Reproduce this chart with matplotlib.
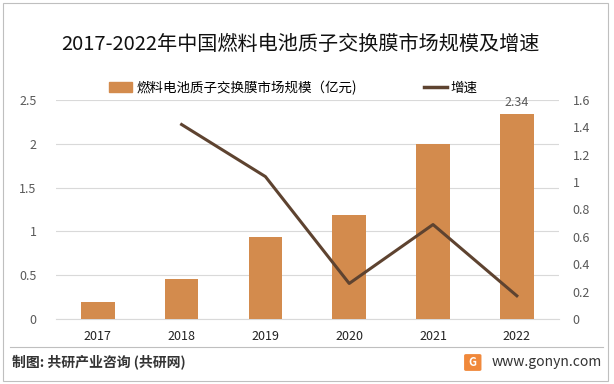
import matplotlib
matplotlib.use("Agg")
import matplotlib.pyplot as plt
from matplotlib.patches import Rectangle, FancyBboxPatch
from matplotlib.lines import Line2D

plt.rcParams['font.family'] = ['Noto Sans CJK SC', 'DejaVu Sans']

### Data ###
years = ['2017', '2018', '2019', '2020', '2021', '2022']
market_size = [0.19, 0.46, 0.94, 1.19, 2.00, 2.34]   # 亿元
growth = [None, 1.42, 1.04, 0.26, 0.69, 0.17]         # 增速
left_ticks = [0, 0.5, 1, 1.5, 2, 2.5]
right_ticks = [0, 0.2, 0.4, 0.6, 0.8, 1, 1.2, 1.4, 1.6]

title = '2017-2022年中国燃料电池质子交换膜市场规模及增速'
bar_label = '燃料电池质子交换膜市场规模（亿元)'
line_label = '增速'
source = '制图: 共研产业咨询 (共研网)'
site = 'www.gonyn.com'

bar_color = '#D38B4D'
line_color = '#5E4330'
tick_color = '#595959'

fig = plt.figure(figsize=(6.14, 3.84), dpi=100)
ax = fig.add_axes([0.091, 0.169, 0.819, 0.571])
x = list(range(len(years)))
ax.bar(x, market_size, width=0.4, color=bar_color, zorder=3, label=bar_label)
ax.set_xlim(-0.5, len(years) - 0.5)
ax.set_ylim(0, 2.5)
ax.set_yticks(left_ticks)
ax.set_yticklabels([f'{t:g}' for t in left_ticks])
ax.set_xticks(x)
ax.set_xticklabels(years)
ax.grid(axis='y', color='#D9D9D9', linewidth=0.8, zorder=0)
for s in ['top', 'left', 'right']:
    ax.spines[s].set_visible(False)
ax.spines['bottom'].set_color('#D9D9D9')
ax.tick_params(length=0, labelsize=9, colors=tick_color)
ax.tick_params(axis='x', pad=8, colors='#222222')
ax.tick_params(axis='y', pad=14)
ax.text(x[-1], market_size[-1] + 0.06, f'{market_size[-1]:.2f}', ha='center', va='bottom',
        fontsize=9, color=tick_color)

ax2 = ax.twinx()
gx = [i for i, g in zip(x, growth) if g is not None]
gy = [g for g in growth if g is not None]
ax2.plot(gx, gy, color=line_color, linewidth=2.2, zorder=4, label=line_label)
ax2.set_ylim(0, 1.6)
ax2.set_yticks(right_ticks)
ax2.set_yticklabels([f'{t:g}' for t in right_ticks])
for s in ax2.spines.values():
    s.set_visible(False)
ax2.tick_params(length=0, labelsize=9, colors=tick_color, pad=10)

# legend
handles = [Rectangle((0, 0), 1, 1, color=bar_color), Line2D([], [], color=line_color, linewidth=2.5)]
fig.legend(handles, [bar_label, line_label], loc='center', bbox_to_anchor=(0.478, 0.772),
           ncol=2, frameon=False, fontsize=9.7, handlelength=1.7, handleheight=0.7,
           columnspacing=5, handletextpad=0.3)

fig.text(0.49, 0.885, title, ha='center', va='center', fontsize=14.5, color='#111111')

# footer
fig.add_artist(Line2D([0.016, 0.982], [0.096, 0.096], color='#BFBFBF', linewidth=0.8))
fig.text(0.02, 0.058, source, ha='left', va='center', fontsize=10, fontweight='bold', color='#333333')
fig.text(0.98, 0.058, site, ha='right', va='center', fontsize=10, color='#333333')
fig.add_artist(FancyBboxPatch((0.759, 0.038), 0.022, 0.036, boxstyle='round,pad=0.002',
                              transform=fig.transFigure, color='#F0883A'))
fig.text(0.770, 0.057, 'G', ha='center', va='center', fontsize=8, fontweight='bold', color='white')

# outer border
fig.add_artist(Rectangle((0.005, 0.008), 0.985, 0.984, transform=fig.transFigure,
                         fill=False, edgecolor='#BFBFBF', linewidth=0.8))

fig.savefig('out.png', dpi=100)
